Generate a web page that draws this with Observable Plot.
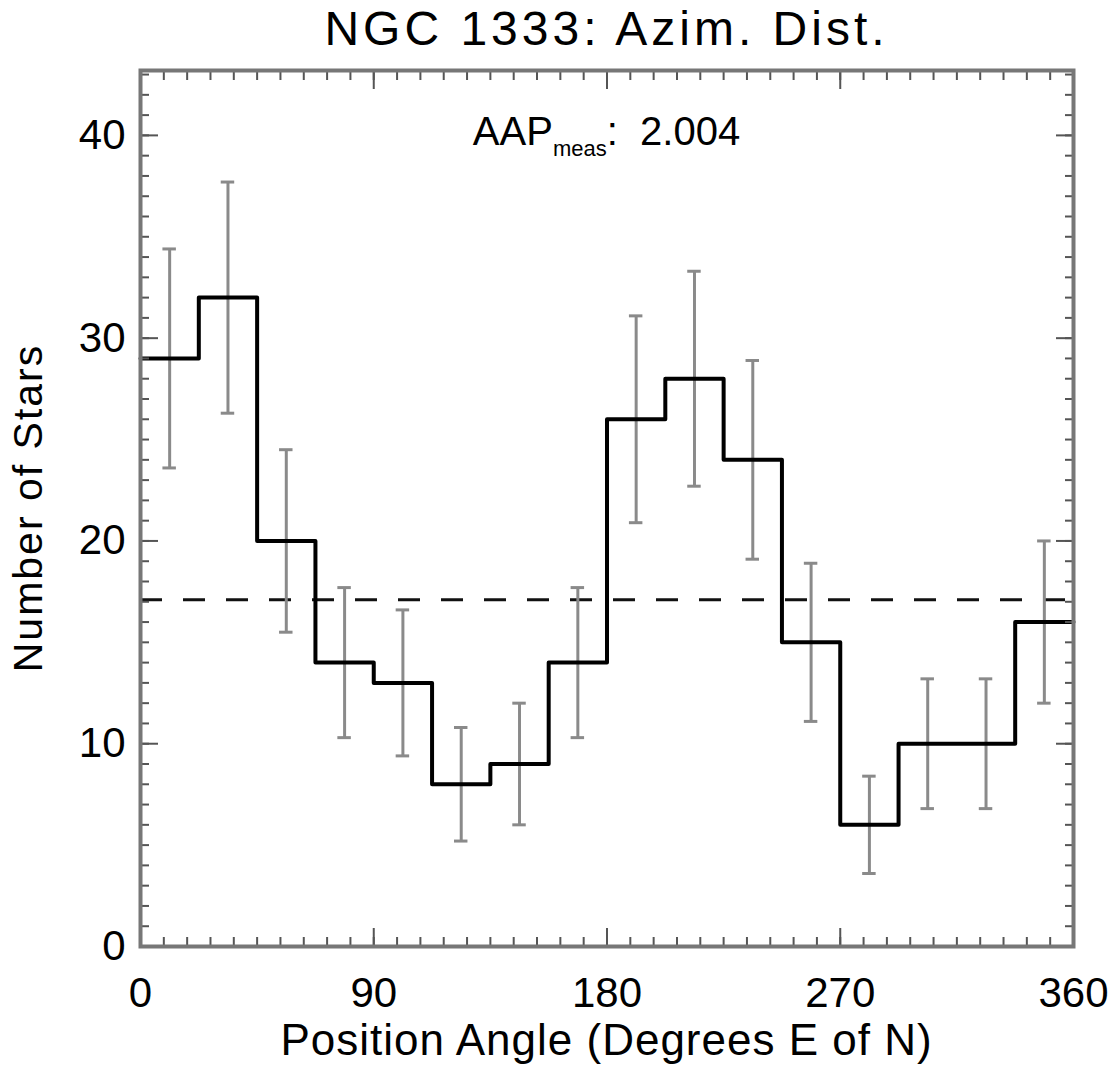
<!DOCTYPE html>
<html>
<head>
<meta charset="utf-8">
<script src="https://cdn.jsdelivr.net/npm/d3@7"></script>
<script src="https://cdn.jsdelivr.net/npm/@observablehq/plot@0.6"></script>
<style>
  body { margin: 0; background: #fff; }
  svg { display: block; }
</style>
</head>
<body>
<div id="chart"></div>
<script>
// ---- data ----
const binStart = [0, 22.5, 45, 67.5, 90, 112.5, 135, 157.5, 180, 202.5, 225, 247.5, 270, 292.5, 315, 337.5];
const binWidth = 22.5;
const counts = [29, 32, 20, 14, 13, 8, 9, 14, 26, 28, 24, 15, 6, 10, 10, 16];
const errors = [5.4, 5.7, 4.5, 3.7, 3.6, 2.8, 3.0, 3.7, 5.1, 5.3, 4.9, 3.9, 2.4, 3.2, 3.2, 4.0];
const meanLevel = 17.1;
const xTicks = [0, 90, 180, 270, 360];
const yTicks = [0, 10, 20, 30, 40];
const xMinorStep = 9;
const yMinorStep = 1;
const xDomain = [0, 360];
const yDomain = [0, 43.2];
const titleText = "NGC 1333: Azim. Dist.";
const xLabel = "Position Angle (Degrees E of N)";
const yLabel = "Number of Stars";
const aapName = "AAP", aapSub = "meas", aapValue = ":  2.004";

// ---- derived tables ----
const bins = binStart.map((s, i) => ({start: s, center: s + binWidth / 2, count: counts[i], err: errors[i]}));
const stepPts = bins.map(b => ({x: b.start, y: b.count}))
  .concat([{x: binStart[binStart.length - 1] + binWidth, y: counts[counts.length - 1]}]);
const xMinor = d3.range(xDomain[0], xDomain[1] + 0.001, xMinorStep);
const yMinor = d3.range(0, Math.floor(yDomain[1]) + 0.001, yMinorStep);
const capHalf = 2.6;

const W = 1119, H = 1069, mt = 70, ml = 140, mr = 46, mb = 123;
const font = "'Liberation Sans', Arial, Helvetica, sans-serif";
const tickColor = "#555";
const majorLen = 18, minorLen = 9;

const tickAxes = [];
for (const [vals, len] of [[xMinor, minorLen], [xTicks, majorLen]]) {
  tickAxes.push(Plot.axisX(vals, {anchor: "bottom", tickSize: len, dy: -len, tickFormat: () => "", label: null, stroke: tickColor, strokeWidth: 2}));
  tickAxes.push(Plot.axisX(vals, {anchor: "top", tickSize: len, dy: len, tickFormat: () => "", label: null, stroke: tickColor, strokeWidth: 2}));
}
for (const [vals, len] of [[yMinor, minorLen], [yTicks, majorLen]]) {
  tickAxes.push(Plot.axisY(vals, {anchor: "left", tickSize: len, dx: len, tickFormat: () => "", label: null, stroke: tickColor, strokeWidth: 2}));
  tickAxes.push(Plot.axisY(vals, {anchor: "right", tickSize: len, dx: -len, tickFormat: () => "", label: null, stroke: tickColor, strokeWidth: 2}));
}

const plot = Plot.plot({
  width: W, height: H,
  marginTop: mt, marginLeft: ml, marginRight: mr, marginBottom: mb,
  style: {fontFamily: font, background: "#fff", color: "#000", overflow: "visible"},
  x: {domain: xDomain, label: null},
  y: {domain: yDomain, label: null},
  marks: [
    Plot.ruleY([meanLevel], {stroke: "#111", strokeWidth: 3, strokeDasharray: "22,21"}),
    Plot.ruleX(bins, {x: "center", y1: d => d.count - d.err, y2: d => d.count + d.err, stroke: "#8a8a8a", strokeWidth: 3}),
    Plot.ruleY(bins, {y: d => d.count - d.err, x1: d => d.center - capHalf, x2: d => d.center + capHalf, stroke: "#8a8a8a", strokeWidth: 3}),
    Plot.ruleY(bins, {y: d => d.count + d.err, x1: d => d.center - capHalf, x2: d => d.center + capHalf, stroke: "#8a8a8a", strokeWidth: 3}),
    Plot.line(stepPts, {x: "x", y: "y", curve: "step-after", stroke: "#000", strokeWidth: 4}),
    ...tickAxes,
    Plot.axisX(xTicks, {anchor: "bottom", tickSize: 0, tickPadding: 31, fontSize: 42, label: null, tickFormat: d => String(d)}),
    Plot.axisY(yTicks, {anchor: "left", tickSize: 0, tickPadding: 15, fontSize: 42, label: null, tickFormat: d => String(d)}),
    Plot.frame({stroke: "#777", strokeWidth: 4})
  ]
});

const svg = d3.select(plot);
const cx = (ml + W - mr) / 2;
const cy = (mt + H - mb) / 2;

svg.append("text")
  .attr("x", cx).attr("y", 45)
  .attr("text-anchor", "middle")
  .style("font-family", font).style("font-size", "48px").style("letter-spacing", "4px")
  .attr("fill", "#000")
  .text(titleText);

const aap = svg.append("text")
  .attr("x", cx).attr("y", 145)
  .attr("text-anchor", "middle")
  .attr("xml:space", "preserve")
  .style("white-space", "pre")
  .style("font-family", font).style("font-size", "40px")
  .attr("fill", "#000");
aap.append("tspan").text(aapName);
aap.append("tspan").attr("dy", 11).style("font-size", "22px").text(aapSub);
aap.append("tspan").attr("dy", -11).text(aapValue);

svg.append("text")
  .attr("x", cx).attr("y", 1055)
  .attr("text-anchor", "middle")
  .style("font-family", font).style("font-size", "44px").style("letter-spacing", "1px")
  .attr("fill", "#000")
  .text(xLabel);

svg.append("text")
  .attr("transform", `translate(42,${cy}) rotate(-90)`)
  .attr("text-anchor", "middle")
  .style("font-family", font).style("font-size", "41px").style("letter-spacing", "2px")
  .attr("fill", "#000")
  .text(yLabel);

document.getElementById("chart").appendChild(plot);
</script>
</body>
</html>
